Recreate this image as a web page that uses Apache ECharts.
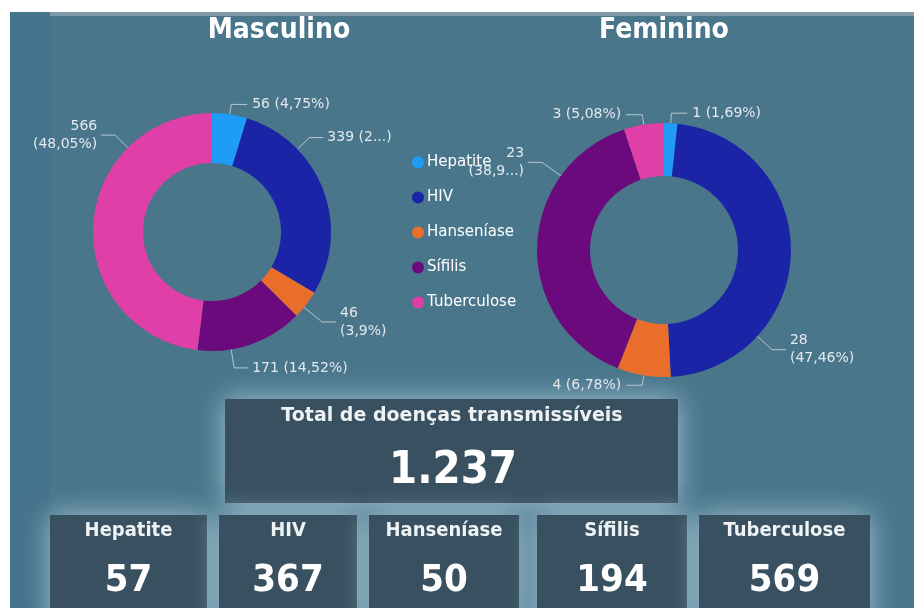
<!DOCTYPE html>
<html>
<head>
<meta charset="utf-8">
<script src="https://cdn.jsdelivr.net/npm/echarts@6/dist/echarts.min.js"></script>
<style>
  html, body { margin: 0; padding: 0; background: #fff; }
  #chart { width: 914px; height: 608px; }
</style>
</head>
<body>
<div id="chart"></div>
<script>
// Doenças transmissíveis por sexo
const categories = ["Hepatite", "HIV", "Hanseníase", "Sífilis", "Tuberculose"];
const masculino = [56, 339, 46, 171, 566];
const feminino = [1, 28, 4, 23, 3];
const totaisPorDoenca = [57, 367, 50, 194, 569];
const totalGeral = 1237;

const colors = ["#1e9cf6", "#1b23a6", "#e96e2c", "#6a0a7c", "#e13fa8"];

const cardFont = "DejaVu Sans Condensed";
const labelFont = "DejaVu Sans";

// donut geometry (series 0 = Masculino, 1 = Feminino)
const pies = [
  { name: "Masculino", center: [212, 232], radius: [69, 119], values: masculino },
  { name: "Feminino", center: [664, 250], radius: [74, 127], values: feminino },
];

// percent in pt-BR style: 2 decimals, comma, no trailing zeros
const fmtPct = (v, total) => {
  let s = (Math.round((v / total) * 10000) / 100).toString();
  return s.replace(".", ",");
};
const fmtNum = (n) => n.toString().replace(/\B(?=(\d{3})+(?!\d))/g, ".");

// label tweaks per slice (wrap onto two lines / truncated percent like Power BI)
const labelOpts = [
  [{}, { cut: 1 }, { wrap: true }, {}, { wrap: true }],
  [{}, { wrap: true }, {}, { wrap: true, cut: 4 }, {}],
];

// nudges so labels sit roughly where Power BI put them  [dx, dy, align]
const labelShift = {
  0: { 1: [-26, -48, "left"], 2: [5, 11, "left"], 3: [-23, 14, "left"], 4: [35, -89, "right"] },
  1: { 1: [-32, 96, "left"], 3: [18, -84, "right"] },
};

const buildData = (values, opts) => {
  const total = values.reduce((a, b) => a + b, 0);
  return values.map((v, i) => {
    const o = opts[i] || {};
    let pct = fmtPct(v, total);
    if (o.cut) pct = pct.slice(0, o.cut) + "...";
    else pct = pct + "%";
    const text = v + (o.wrap ? "\n" : " ") + "(" + pct + ")";
    return {
      name: categories[i],
      value: v,
      itemStyle: { color: colors[i] },
      label: { formatter: text },
    };
  });
};

// leader line: from the slice's outer arc to the moved label
const leader = (si, di, left, top, w, h, align) => {
  const g = pies[si];
  const total = g.values.reduce((a, b) => a + b, 0);
  let before = 0;
  for (let k = 0; k < di; k++) before += g.values[k];
  const a0 = (before / total) * 360;
  const a1 = ((before + g.values[di]) / total) * 360;
  const dir = align === "right" ? 1 : -1;
  const p2 = [align === "right" ? left + w + 4 : left - 4, top + h / 2];
  const p1 = [p2[0] + dir * 14, p2[1]];
  let ang = (Math.atan2(p1[0] - g.center[0], -(p1[1] - g.center[1])) * 180) / Math.PI;
  if (ang < 0) ang += 360;
  ang = Math.min(Math.max(ang, a0 + 2), a1 - 2);
  const rad = (ang * Math.PI) / 180;
  const R = g.radius[1];
  const p0 = [g.center[0] + R * Math.sin(rad), g.center[1] - R * Math.cos(rad)];
  return [p0, p1, p2];
};

const pieBase = {
  type: "pie",
  startAngle: 90,
  clockwise: true,
  avoidLabelOverlap: true,
  label: {
    show: true,
    position: "outside",
    color: "#e3e9ed",
    fontFamily: labelFont,
    fontSize: 14,
    lineHeight: 18,
    overflow: "none",
  },
  labelLine: {
    show: true,
    length: 10,
    length2: 16,
    lineStyle: { color: "#b8c6cf", width: 1 },
  },
  labelLayout: (p) => {
    const s = (labelShift[p.seriesIndex] || {})[p.dataIndex];
    if (!s) return {};
    const r = p.labelRect;
    const left = r.x + s[0];
    const top = r.y + s[1];
    return {
      x: s[2] === "right" ? left + r.width : left,
      y: top,
      align: s[2],
      verticalAlign: "top",
      labelLinePoints: leader(p.seriesIndex, p.dataIndex, left, top, r.width, r.height, s[2]),
    };
  },
  emphasis: { disabled: true },
};

// cards at the bottom
const cardX = [50, 219, 369, 537, 699];
const cardW = [157, 138, 150, 150, 171];

const glow = {
  shadowBlur: 26,
  shadowColor: "rgba(200, 228, 240, 0.7)",
};

const graphics = [
  { type: "rect", z: 1, shape: { x: 0, y: 0, width: 914, height: 12 }, style: { fill: "#ffffff" } },
  { type: "rect", z: 1, shape: { x: 0, y: 0, width: 10, height: 608 }, style: { fill: "#ffffff" } },
  { type: "rect", z: 0, shape: { x: 10, y: 12, width: 40, height: 596 }, style: { fill: "#46738c" } },
  { type: "rect", z: 0, shape: { x: 50, y: 12, width: 864, height: 4 }, style: { fill: "#7e9aab" } },
  // total card
  {
    type: "rect",
    z: 0,
    shape: { x: 225, y: 399, width: 453, height: 104 },
    style: Object.assign({ fill: "#385060" }, glow),
  },
  {
    type: "text",
    z: 2,
    style: {
      x: 452, y: 416, text: "Total de doenças transmissíveis",
      fill: "#eef2f4", font: "bold 19px 'DejaVu Sans'",
      textAlign: "center", textVerticalAlign: "middle",
    },
  },
  {
    type: "text",
    z: 2,
    style: {
      x: 453, y: 471, text: fmtNum(totalGeral),
      fill: "#ffffff", font: "bold 45px '" + cardFont + "'",
      textAlign: "center", textVerticalAlign: "middle",
    },
  },
];

categories.forEach((c, i) => {
  const cx = cardX[i] + cardW[i] / 2;
  graphics.push(
    {
      type: "rect",
      z: 0,
      shape: { x: cardX[i], y: 515, width: cardW[i], height: 110 },
      style: Object.assign({ fill: "#385060" }, glow),
    },
    {
      type: "text",
      z: 2,
      style: {
        x: cx, y: 531, text: c,
        fill: "#eef2f4", font: "bold 20px '" + cardFont + "'",
        textAlign: "center", textVerticalAlign: "middle",
      },
    },
    {
      type: "text",
      z: 2,
      style: {
        x: cx, y: 581, text: fmtNum(totaisPorDoenca[i]),
        fill: "#ffffff", font: "bold 38px '" + cardFont + "'",
        textAlign: "center", textVerticalAlign: "middle",
      },
    }
  );
});

const chart = echarts.init(document.getElementById("chart"));

const titleStyle = { color: "#ffffff", fontFamily: cardFont, fontSize: 28, fontWeight: "bold" };

const option = {
  backgroundColor: "#4a768c",
  animation: false,
  title: [
    { text: "Masculino", left: 274, top: 12, textAlign: "center", textStyle: titleStyle },
    { text: "Feminino", left: 659, top: 12, textAlign: "center", textStyle: titleStyle },
  ],
  legend: {
    orient: "vertical",
    left: 407,
    top: 150,
    icon: "circle",
    itemWidth: 12,
    itemHeight: 12,
    itemGap: 20,
    data: categories,
    selectedMode: false,
    textStyle: { color: "#ffffff", fontFamily: labelFont, fontSize: 15, padding: [0, 0, 0, -2] },
  },
  series: pies.map((g, si) =>
    Object.assign({}, pieBase, {
      name: g.name,
      center: g.center,
      radius: g.radius,
      data: buildData(g.values, labelOpts[si]),
    })
  ),
  graphic: graphics,
};

chart.setOption(option);
</script>
</body>
</html>
